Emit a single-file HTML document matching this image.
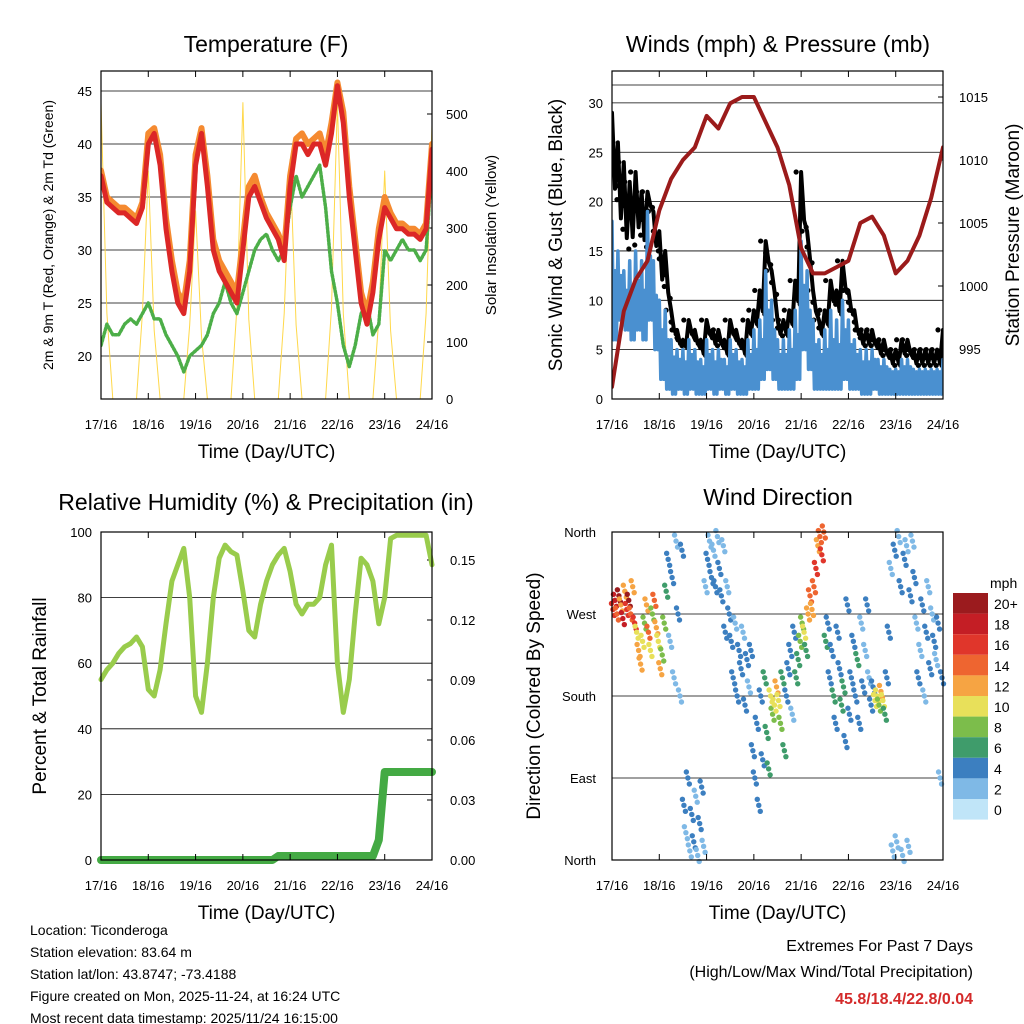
<!DOCTYPE html>
<html><head><meta charset="utf-8"><style>
html,body{margin:0;padding:0;background:#fff}
svg{display:block;font-family:"Liberation Sans",sans-serif}
</style></head><body>
<svg id="chart" width="1024" height="1024" viewBox="0 0 1024 1024">
<defs><clipPath id="clipW"><rect x="612" y="71" width="331" height="328"/></clipPath>
<clipPath id="clipT"><rect x="101" y="71" width="331" height="328"/></clipPath></defs>
</svg>
<script>
const hours = [];
for (let h = 0; h <= 168; h += 3) hours.push(h);
const xTickLabels = ["17/16","18/16","19/16","20/16","21/16","22/16","23/16","24/16"];
const temp2m = [37,34.5,34,33.5,33.5,33,32.5,34,40,41,38,32,28,25,24,28,38,41,36,30,28,27,26,25,30,35,36,34.5,33,32,31,29,36,40,40,39,40,40,38,41,45.5,42,35,30,25,23,26,31,34,33,32,32,31.5,31.5,31,32,39.5];
const temp9m = [37.5,35,34.5,34,34,33.5,33,34.5,41,41.5,39,33,29,26,25,29,39,41.5,37,31,29,28,27,26,31,36,37,35,33.5,32.5,31.5,30,37,40.5,41,40,40.5,41,39,42,45.8,43,36,31,26,24,27,32,35,33.5,32.5,32.5,32,32,31.5,32.5,40];
const dewpoint = [21,23,22,22,23,23.5,23,24,25,23.5,23.5,22,21,20,18.5,20,20.5,21,22,24,25,27,25,24,26,28,30,31,31.5,30,29,30,34,37,35,36,37,38,34,28,25,21,19,21,24,25,22,23,30,29,30,31,30,30,29,30,38];
const solar = [520,150,0,0,0,0,0,150,400,120,0,0,0,0,0,130,330,110,0,0,0,0,0,160,520,140,0,0,0,0,0,150,420,130,0,0,0,0,0,160,520,150,0,0,0,0,0,140,400,120,0,0,0,0,0,150,480];
const tempTicks = [20,25,30,35,40,45];
const solarTicks = [0,100,200,300,400,500];

const windMax = [18,15,13,14,15,14,19,14,10,9,6,5,5,6,5,4,6,5,5,4,6,5,4,6,7,8,13,10,6,6,7,9,16,13,8,6,7,9,8,10,8,6,5,5,5,4,4,3,3,4,4,3,3,3,3,3,4];
const windMin = [6,8,7,6,7,6,8,5,2,1,0.5,1,0.5,1,0.5,0.5,1,0.5,1,0.5,1,0.5,0.5,1,1,2,3,2,1,1,1,2,5,3,1,1,1,1,1,2,1,1,0.5,0.5,1,0.5,0.5,0.5,0.5,0.5,0.5,0.5,0.5,0.5,0.5,0.5,1];
const gust = [29,26,24,22,23,21,21,19,17,15,9,7,6,8,7,6,8,7,7,6,8,7,6,8,9,11,16,13,8,8,9,12,23,17,11,8,9,12,11,14,11,9,7,7,7,6,6,5,5,6,6,5,5,5,5,5,7];
const pressure = [992,998,1000.5,1002,1006,1008.5,1010,1011,1013.5,1012.5,1014.5,1015,1015,1013,1011,1008,1003,1001,1001,1001.5,1002,1005,1005.5,1004,1001,1002,1004,1007,1011];
const pressureHours = [0,6,12,18,24,30,36,42,48,54,60,66,72,78,84,90,96,102,108,114,120,126,132,138,144,150,156,162,168];
const windTicks = [0,5,10,15,20,25,30];
const pressTicks = [995,1000,1005,1010,1015];

const humidity = [55,58,60,63,65,66,68,65,52,50,58,72,85,90,95,80,50,45,60,80,92,96,94,93,82,70,68,78,85,90,93,95,88,78,75,78,78,80,90,96,60,45,55,75,92,90,85,72,80,98,99,99,99,99,99,99,90];
const precip = [0,0,0,0,0,0,0,0,0,0,0,0,0,0,0,0,0,0,0,0,0,0,0,0,0,0,0,0,0,0,0.002,0.002,0.002,0.002,0.002,0.002,0.002,0.002,0.002,0.002,0.002,0.002,0.002,0.002,0.002,0.002,0.002,0.01,0.044,0.044,0.044,0.044,0.044,0.044,0.044,0.044,0.044];
const rhTicks = [0,20,40,60,80,100];
const precipTicks = ["0.00","0.03","0.06","0.09","0.12","0.15"];

const dirHours = [];
for (let i = 0; i < 168; i++) dirHours.push(i);
const dirDeg = [275,285,270,290,280,265,295,275,285,270,300,260,250,230,215,240,260,280,250,230,270,285,255,240,210,225,260,295,330,240,310,200,350,270,180,340,60,30,90,10,50,20,70,5,40,80,15,300,330,350,310,340,300,355,320,290,345,250,300,270,240,200,260,180,230,210,250,170,220,190,230,120,90,150,60,180,110,200,140,100,180,160,170,190,175,150,200,120,180,210,230,160,250,200,220,240,260,250,230,270,290,275,300,320,345,355,335,360,240,260,200,230,180,150,250,210,170,190,130,280,160,200,240,180,220,150,260,190,230,280,200,170,190,175,180,170,185,175,160,200,250,320,10,340,20,355,300,5,330,345,15,290,350,310,260,200,230,280,180,250,300,210,270,240,220,260,90,200];
const dirSpeed = [16,18,14,20,12,17,12,15,19,13,11,16,10,12,11,9,8,12,13,10,8,14,12,9,11,7,8,6,3,2,3,2,2,3,1,3,3,2,3,2,4,3,2,1,3,4,2,1,3,2,3,2,3,1,4,3,2,3,2,4,3,4,2,3,4,3,2,4,3,2,4,3,4,3,4,3,4,5,6,5,10,8,9,11,10,7,6,5,3,4,3,2,4,5,6,7,8,9,6,11,13,12,14,15,12,14,16,13,5,4,3,4,5,4,3,4,6,5,4,3,4,3,4,3,5,3,2,3,2,3,2,4,3,9,10,8,11,10,6,4,3,2,2,3,1,2,3,2,3,2,1,3,2,3,2,3,2,3,2,3,2,3,2,3,2,3,2,3];
const speedLabels = ["20+","18","16","14","12","10","8","6","4","2","0"];
const speedColors = ["#9b1b1e","#c41e25","#e0362b","#ee6530","#f6a443","#e8e05a","#7cbd4b","#3f9c6b","#3c7fc0","#7fb9e6","#c0e5f8"];
const dirTicks = ["North","East","South","West","North"];

const svg = document.getElementById('chart');
const NS = 'http://www.w3.org/2000/svg';
function mk(tag, attrs, parent) {
  const e = document.createElementNS(NS, tag);
  for (const k in attrs) e.setAttribute(k, attrs[k]);
  (parent || svg).appendChild(e);
  return e;
}
function txt(s, x, y, size, anchor, parent, extra) {
  const t = mk('text', Object.assign({x: x, y: y, 'font-size': size, 'text-anchor': anchor || 'middle', fill: '#000'}, extra || {}), parent);
  t.textContent = s;
  return t;
}
function panel(x0, y0, name) {
  const g = mk('g', {});
  
  
  return {g: g, x0: x0, y0: y0, w: 331, h: 328, sx: t => x0 + t / 168 * 331};
}
function frame(p) {
  const r = mk('rect', {x: p.x0, y: p.y0, width: p.w, height: p.h, fill: 'none', stroke: '#000', 'stroke-width': 1.2}, p.g);
  
  
}
function xAxis(p) {
  const g = mk('g', {}, p.g);
  
  
  xTickLabels.forEach((l, i) => {
    const x = p.sx(i * 24);
    mk('line', {x1: x, x2: x, y1: p.y0 + p.h, y2: p.y0 + p.h - 6, stroke: '#000'}, g);
    mk('line', {x1: x, x2: x, y1: p.y0, y2: p.y0 + 6, stroke: '#000'}, g);
    const t = txt(l, x, p.y0 + p.h + 30, 13, 'middle', g);
    
    
  });
  const tt = txt('Time (Day/UTC)', p.x0 + p.w / 2, p.y0 + p.h + 59, 19, 'middle', g);
  
  
}
function vtext(s, x, y, size, g, name) {
  const t = txt(s, x, y, size, 'middle', g, {transform: 'rotate(-90 ' + x + ' ' + y + ')'});
  
  
}
function poly(pts, attrs, g, name) {
  const e = mk('polyline', Object.assign({points: pts.map(p => p[0].toFixed(1) + ',' + p[1].toFixed(1)).join(' '), fill: 'none', 'stroke-linejoin': 'round', 'stroke-linecap': 'round'}, attrs), g);
  
  
  return e;
}

// Panel 1
(function () {
  const p = panel(101, 71, 'temperature-panel');
  const ty = v => 356 - (v - 20) * 10.6;
  const sy = v => 399 - v * 0.57;
  tempTicks.forEach(v => {
    mk('line', {x1: p.x0, x2: p.x0 + p.w, y1: ty(v), y2: ty(v), stroke: '#000', 'stroke-width': 0.8}, p.g);
    const t = txt(String(v), p.x0 - 9, ty(v) + 5, 13, 'end', p.g);
    
    
  });
  solarTicks.forEach(v => {
    mk('line', {x1: p.x0 + p.w, x2: p.x0 + p.w - 5, y1: sy(v), y2: sy(v), stroke: '#000'}, p.g);
    const t = txt(String(v), p.x0 + p.w + 14, sy(v) + 5, 13, 'start', p.g);
    
    
  });
  const cg = mk('g', {'clip-path': 'url(#clipT)'}, p.g);
  poly(hours.map((h, i) => [p.sx(h), sy(solar[i])]), {stroke: '#ffd84a', 'stroke-width': 1}, cg, 'solar-line');
  poly(hours.map((h, i) => [p.sx(h), ty(dewpoint[i])]), {stroke: '#4cae48', 'stroke-width': 3.5, 'stroke-dasharray': '2 2'}, cg, 'dewpoint-line');
  poly(hours.map((h, i) => [p.sx(h), ty(temp9m[i])]), {stroke: '#f58a30', 'stroke-width': 6}, cg, 'temp-9m-line');
  poly(hours.map((h, i) => [p.sx(h), ty(temp2m[i])]), {stroke: '#dc2726', 'stroke-width': 5}, cg, 'temp-2m-line');
  frame(p); xAxis(p);
  const t = txt('Temperature (F)', 266, 52, 23, 'middle', p.g);
  
  
  vtext('2m & 9m T (Red, Orange) & 2m Td (Green)', 53, 235, 14, p.g, 'y-axis-title');
  vtext('Solar Insolation (Yellow)', 496, 235, 15, p.g, 'y2-axis-title');
})();

// Panel 2
(function () {
  const p = panel(612, 71, 'winds-panel');
  const wy = v => 399 - v * 9.87;
  const py = v => 349 - (v - 995) * 12.6;
  windTicks.forEach(v => {
    if (v > 0) mk('line', {x1: p.x0, x2: p.x0 + p.w, y1: wy(v), y2: wy(v), stroke: '#000', 'stroke-width': 0.8}, p.g);
    const t = txt(String(v), p.x0 - 9, wy(v) + 5, 13, 'end', p.g);
    
    
  });
  mk('line', {x1: p.x0, x2: p.x0 + p.w, y1: 85, y2: 85, stroke: '#000', 'stroke-width': 0.8}, p.g);
  pressTicks.forEach(v => {
    mk('line', {x1: p.x0 + p.w, x2: p.x0 + p.w - 5, y1: py(v), y2: py(v), stroke: '#000'}, p.g);
    const t = txt(String(v), p.x0 + p.w + 16, py(v) + 5, 13, 'start', p.g);
    
    
  });
  const cg = mk('g', {'clip-path': 'url(#clipW)'}, p.g);
  // gust zigzag + dots
  const gpts = [];
  hours.forEach((h, i) => {
    gpts.push([p.sx(h), wy(gust[i])]);
    gpts.push([p.sx(h + 1.5), wy(windMax[i] + (gust[i] - windMax[i]) * 0.3)]);
  });
  poly(gpts, {stroke: '#000', 'stroke-width': 4}, cg, 'gust-trace');
  hours.forEach((h, i) => {
    for (let k = 0; k < 3; k++) {
      const c = mk('circle', {cx: p.sx(h) + (k - 1) * 5, cy: wy(gust[i] - k * (gust[i] - windMax[i]) / 2.5), r: 2.6, fill: '#000'}, cg);
      
      
    }
  });
  // wind zigzag between max and min
  const wpts = [];
  hours.forEach((h, i) => {
    wpts.push([p.sx(h), wy(windMax[i])]);
    wpts.push([p.sx(h + 0.75), wy(windMin[i])]);
    wpts.push([p.sx(h + 1.5), wy((windMax[i] + windMin[i]) / 2 + 1)]);
    wpts.push([p.sx(h + 2.25), wy(windMin[i])]);
  });
  poly(wpts, {stroke: '#4a90d0', 'stroke-width': 3.5}, cg, 'wind-trace');
  poly(pressureHours.map((h, i) => [p.sx(h), py(pressure[i])]), {stroke: '#9b1b1b', 'stroke-width': 4}, cg, 'pressure-line');
  frame(p); xAxis(p);
  const t = txt('Winds (mph) & Pressure (mb)', 778, 52, 23, 'middle', p.g);
  
  
  vtext('Sonic Wind & Gust (Blue, Black)', 562, 235, 19, p.g, 'y-axis-title');
  vtext('Station Pressure (Maroon)', 1019, 235, 19, p.g, 'y2-axis-title');
})();

// Panel 3
(function () {
  const p = panel(101, 532, 'humidity-panel');
  const ry = v => 860 - v * 3.28;
  const qy = v => 860 - v / 0.15 * 300;
  rhTicks.forEach(v => {
    if (v > 0 && v < 100) mk('line', {x1: p.x0, x2: p.x0 + p.w, y1: ry(v), y2: ry(v), stroke: '#000', 'stroke-width': 0.8}, p.g);
    const t = txt(String(v), p.x0 - 9, ry(v) + 5, 13, 'end', p.g);
    
    
  });
  precipTicks.forEach(s => {
    const y = qy(parseFloat(s));
    mk('line', {x1: p.x0 + p.w, x2: p.x0 + p.w - 5, y1: y, y2: y, stroke: '#000'}, p.g);
    const t = txt(s, p.x0 + p.w + 18, y + 5, 13, 'start', p.g);
    
    
  });
  poly(hours.map((h, i) => [p.sx(h), ry(humidity[i])]), {stroke: '#99cc4c', 'stroke-width': 5}, p.g, 'humidity-line');
  poly(hours.map((h, i) => [p.sx(h), qy(precip[i])]), {stroke: '#44aa44', 'stroke-width': 8}, p.g, 'precip-line');
  frame(p); xAxis(p);
  const t = txt('Relative Humidity (%) & Precipitation (in)', 266, 510, 23, 'middle', p.g);
  
  
  vtext('Percent & Total Rainfall', 46, 696, 19, p.g, 'y-axis-title');
})();

// Panel 4
(function () {
  const p = panel(612, 532, 'wind-direction-panel');
  const dy = v => 860 - v * 328 / 360;
  dirTicks.forEach((l, i) => {
    const y = 860 - i * 82;
    if (i > 0 && i < 4) mk('line', {x1: p.x0, x2: p.x0 + p.w, y1: y, y2: y, stroke: '#000', 'stroke-width': 0.8}, p.g);
    const t = txt(l, p.x0 - 16, y + 5, 13, 'end', p.g);
    
    
  });
  const colorFor = s => speedColors[10 - Math.max(0, Math.min(10, Math.round(s / 2)))];
  dirHours.forEach((h, i) => {
    const x = p.sx(h + 0.5);
    for (let k = -1; k <= 1; k++) {
      const c = mk('circle', {cx: x + k * 1.5, cy: dy(dirDeg[i]) + k * 6, r: 2.7, fill: colorFor(dirSpeed[i])}, p.g);
      
      
    }
  });
  frame(p); xAxis(p);
  const t = txt('Wind Direction', 778, 505, 23, 'middle', p.g);
  
  
  vtext('Direction (Colored By Speed)', 540, 696, 19, p.g, 'y-axis-title');
  const lg = mk('g', {});
  
  
  txt('mph', 990, 588, 14, 'start', lg);
  speedLabels.forEach((l, i) => {
    const y = 593 + i * 20.6;
    const r = mk('rect', {x: 953, y: y, width: 35, height: 20.6, fill: speedColors[i]}, lg);
    
    
    txt(l, 994, y + 16, 14, 'start', lg);
  });
})();

(function () {
  const g = mk('g', {});
  
  
  ["Location: Ticonderoga","Station elevation: 83.64 m","Station lat/lon: 43.8747; -73.4188","Figure created on Mon, 2025-11-24, at 16:24 UTC","Most recent data timestamp: 2025/11/24 16:15:00"].forEach((s, i) => {
    txt(s, 30, 935 + i * 22, 14, 'start', g);
  });
  const g2 = mk('g', {});
  
  
  txt('Extremes For Past 7 Days', 973, 951, 16, 'end', g2);
  txt('(High/Low/Max Wind/Total Precipitation)', 973, 977, 16, 'end', g2);
  txt('45.8/18.4/22.8/0.04', 973, 1004, 16, 'end', g2, {fill: '#d42a2a', 'font-weight': 'bold'});
})();
</script>
</body></html>
